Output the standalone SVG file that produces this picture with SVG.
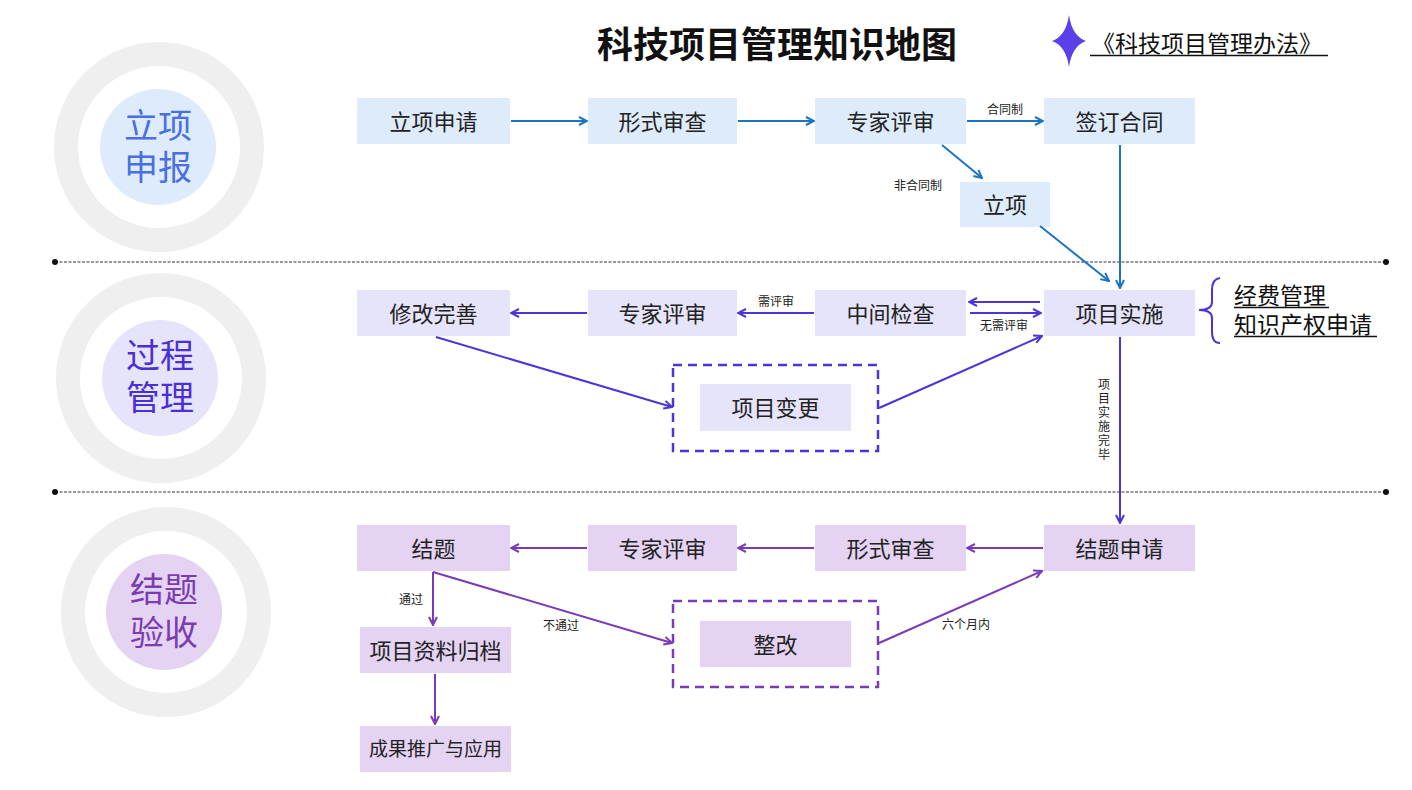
<svg xmlns="http://www.w3.org/2000/svg" width="1412" height="790" viewBox="0 0 1412 790">
<style>
text{font-family:"Noto Sans CJK SC","Liberation Sans",sans-serif;}
.bt{font-size:22px;fill:#222;text-anchor:middle;dominant-baseline:central;}
.lbl{font-size:12px;fill:#222;text-anchor:middle;}
.b1{fill:#DDEBFB;}
.b2{fill:#E6E4FA;}
.b3{fill:#E4D3F3;}
.ring{fill:none;stroke:#EFEFEF;stroke-width:24;}
.c1{stroke:#1A75C4;stroke-width:2;fill:none;marker-end:url(#mb);}
.c2{stroke:#4B35D8;stroke-width:2;fill:none;marker-end:url(#mi);}
.c3{stroke:#7B3AB8;stroke-width:2;fill:none;marker-end:url(#mp);}
.sep{stroke:#333;stroke-width:1;stroke-dasharray:3 1.5;}
.ct{font-size:34px;text-anchor:middle;}
</style>
<defs>
<marker id="mb" viewBox="0 0 10 10" refX="9" refY="5" markerWidth="10" markerHeight="10" markerUnits="userSpaceOnUse" orient="auto"><path d="M1,1 L9,5 L1,9" fill="none" stroke="#1A75C4" stroke-width="2"/></marker>
<marker id="mi" viewBox="0 0 10 10" refX="9" refY="5" markerWidth="10" markerHeight="10" markerUnits="userSpaceOnUse" orient="auto"><path d="M1,1 L9,5 L1,9" fill="none" stroke="#4B35D8" stroke-width="2"/></marker>
<marker id="mp" viewBox="0 0 10 10" refX="9" refY="5" markerWidth="10" markerHeight="10" markerUnits="userSpaceOnUse" orient="auto"><path d="M1,1 L9,5 L1,9" fill="none" stroke="#7B3AB8" stroke-width="2"/></marker>
</defs>
<rect width="1412" height="790" fill="#fff"/>

<!-- title -->
<text x="777" y="42" font-size="36" font-weight="bold" text-anchor="middle" dominant-baseline="central" fill="#111">科技项目管理知识地图</text>
<g id="law-link">
<path d="M1069,15 Q1072,36 1086,41 Q1072,46 1069,67 Q1066,46 1052,41 Q1066,36 1069,15 Z" fill="#5B3FE8"/>
<text x="1092" y="52" font-size="23" fill="#111">《科技项目管理办法》</text>
<line x1="1090" y1="55.5" x2="1328" y2="55.5" stroke="#111" stroke-width="1.5"/>
</g>

<!-- stage circles -->
<g id="stage1">
<circle cx="159" cy="147" r="93" class="ring"/>
<circle cx="158" cy="147" r="58" fill="#DDEBFD"/>
<text x="158" y="138" class="ct" fill="#4A6FE0">立项<tspan x="158" dy="42">申报</tspan></text>
</g>
<g id="stage2">
<circle cx="161" cy="378" r="93" class="ring"/>
<circle cx="160" cy="378" r="58" fill="#E6E4FA"/>
<text x="160" y="368" class="ct" fill="#4B2FD6">过程<tspan x="160" dy="42">管理</tspan></text>
</g>
<g id="stage3">
<circle cx="166" cy="612" r="93" class="ring"/>
<circle cx="164" cy="612" r="58" fill="#E4D3F3"/>
<text x="164" y="602" class="ct" fill="#7A3DB0">结题<tspan x="164" dy="43">验收</tspan></text>
</g>

<!-- separators -->
<g id="separators">
<line x1="55" y1="262" x2="1386" y2="262" class="sep"/>
<circle cx="55" cy="262" r="3" fill="#111"/><circle cx="1386" cy="262" r="3" fill="#111"/>
<line x1="55" y1="492" x2="1386" y2="492" class="sep"/>
<circle cx="55" cy="492" r="3" fill="#111"/><circle cx="1386" cy="492" r="3" fill="#111"/>
</g>

<!-- row 1 nodes -->
<g id="n-lxsq"><rect x="357" y="98" width="153" height="46" class="b1"/><text x="433.5" y="119.5" class="bt">立项申请</text></g>
<g id="n-xssc1"><rect x="588" y="98" width="149" height="46" class="b1"/><text x="662.5" y="119.5" class="bt">形式审查</text></g>
<g id="n-zjps1"><rect x="815" y="98" width="151" height="46" class="b1"/><text x="890.5" y="119.5" class="bt">专家评审</text></g>
<g id="n-qdht"><rect x="1044" y="98" width="151" height="46" class="b1"/><text x="1119.5" y="119.5" class="bt">签订合同</text></g>
<g id="n-lx"><rect x="960" y="182" width="90" height="45" class="b1"/><text x="1005" y="203" class="bt">立项</text></g>

<!-- row 2 nodes -->
<g id="n-xgws"><rect x="357" y="290" width="153" height="46" class="b2"/><text x="433.5" y="311.5" class="bt">修改完善</text></g>
<g id="n-zjps2"><rect x="588" y="290" width="149" height="46" class="b2"/><text x="662.5" y="311.5" class="bt">专家评审</text></g>
<g id="n-zjjc"><rect x="815" y="290" width="151" height="46" class="b2"/><text x="890.5" y="311.5" class="bt">中间检查</text></g>
<g id="n-xmss"><rect x="1044" y="290" width="151" height="46" class="b2"/><text x="1119.5" y="311.5" class="bt">项目实施</text></g>
<g id="n-xmbg">
<rect x="673" y="365" width="205" height="86" fill="none" stroke="#4B35D8" stroke-width="2.5" stroke-dasharray="9 6"/>
<rect x="700" y="384" width="151" height="47" class="b2"/><text x="775.5" y="406" class="bt">项目变更</text></g>
<g id="n-brace">
<path d="M1220,278 Q1212,279 1212,290 L1212,302 Q1212,310 1199,310 Q1212,310 1212,318 L1212,332 Q1212,343 1220,343" fill="none" stroke="#4B35D8" stroke-width="2"/>
<text x="1234" y="304" font-size="23" fill="#111">经费管理<tspan x="1234" dy="29">知识产权申请</tspan></text>
<line x1="1234" y1="307.5" x2="1329" y2="307.5" stroke="#111" stroke-width="1.5"/>
<line x1="1234" y1="336.5" x2="1377" y2="336.5" stroke="#111" stroke-width="1.5"/>
</g>

<!-- row 3 nodes -->
<g id="n-jt"><rect x="357" y="525" width="153" height="46" class="b3"/><text x="433.5" y="546.5" class="bt">结题</text></g>
<g id="n-zjps3"><rect x="588" y="525" width="149" height="46" class="b3"/><text x="662.5" y="546.5" class="bt">专家评审</text></g>
<g id="n-xssc3"><rect x="815" y="525" width="151" height="46" class="b3"/><text x="890.5" y="546.5" class="bt">形式审查</text></g>
<g id="n-jtsq"><rect x="1044" y="525" width="151" height="46" class="b3"/><text x="1119.5" y="546.5" class="bt">结题申请</text></g>
<g id="n-zlgd"><rect x="360" y="627" width="151" height="46" class="b3"/><text x="435.5" y="648.5" class="bt">项目资料归档</text></g>
<g id="n-cgtg"><rect x="360" y="726" width="151" height="46" class="b3"/><text x="435.5" y="747.5" class="bt" style="font-size:19px">成果推广与应用</text></g>
<g id="n-zg">
<rect x="673" y="601" width="205" height="86" fill="none" stroke="#7B3AB8" stroke-width="2.5" stroke-dasharray="9 6"/>
<rect x="700" y="621" width="151" height="46" class="b3"/><text x="775.5" y="642.5" class="bt">整改</text></g>

<!-- connectors -->
<g id="connectors">
<line x1="511" y1="121" x2="587" y2="121" class="c1"/>
<line x1="738" y1="121" x2="814" y2="121" class="c1"/>
<line x1="967" y1="121" x2="1043" y2="121" class="c1"/>
<text x="1005" y="114" class="lbl">合同制</text>
<line x1="942" y1="145" x2="982" y2="178" class="c1"/>
<text x="918" y="190" class="lbl">非合同制</text>
<line x1="1040" y1="226" x2="1109" y2="281" class="c1"/>
<line x1="1120" y1="145" x2="1120" y2="288" class="c1"/>

<line x1="814" y1="313" x2="738" y2="313" class="c2"/>
<text x="776" y="306" class="lbl">需评审</text>
<line x1="587" y1="313" x2="511" y2="313" class="c2"/>
<line x1="1040" y1="302" x2="969" y2="302" class="c2"/>
<line x1="970" y1="313" x2="1041" y2="313" class="c2"/>
<text x="1004" y="330" class="lbl">无需评审</text>
<line x1="436" y1="337" x2="672" y2="407" class="c2"/>
<line x1="879" y1="408" x2="1042" y2="336" class="c2"/>
<line x1="1120" y1="337" x2="1120" y2="523" class="c2"/>
<text x="1104" y="378" font-size="12" fill="#222" style="writing-mode:vertical-rl" letter-spacing="2">项目实施完毕</text>

<line x1="1043" y1="548" x2="967" y2="548" class="c3"/>
<line x1="814" y1="548" x2="738" y2="548" class="c3"/>
<line x1="587" y1="548" x2="511" y2="548" class="c3"/>
<line x1="433" y1="572" x2="433" y2="625" class="c3"/>
<text x="411" y="604" class="lbl">通过</text>
<line x1="433" y1="572" x2="672" y2="643" class="c3"/>
<text x="561" y="630" class="lbl">不通过</text>
<line x1="879" y1="643" x2="1042" y2="571" class="c3"/>
<text x="966" y="629" class="lbl">六个月内</text>
<line x1="435" y1="674" x2="435" y2="724" class="c3"/>
</g>
</svg>
